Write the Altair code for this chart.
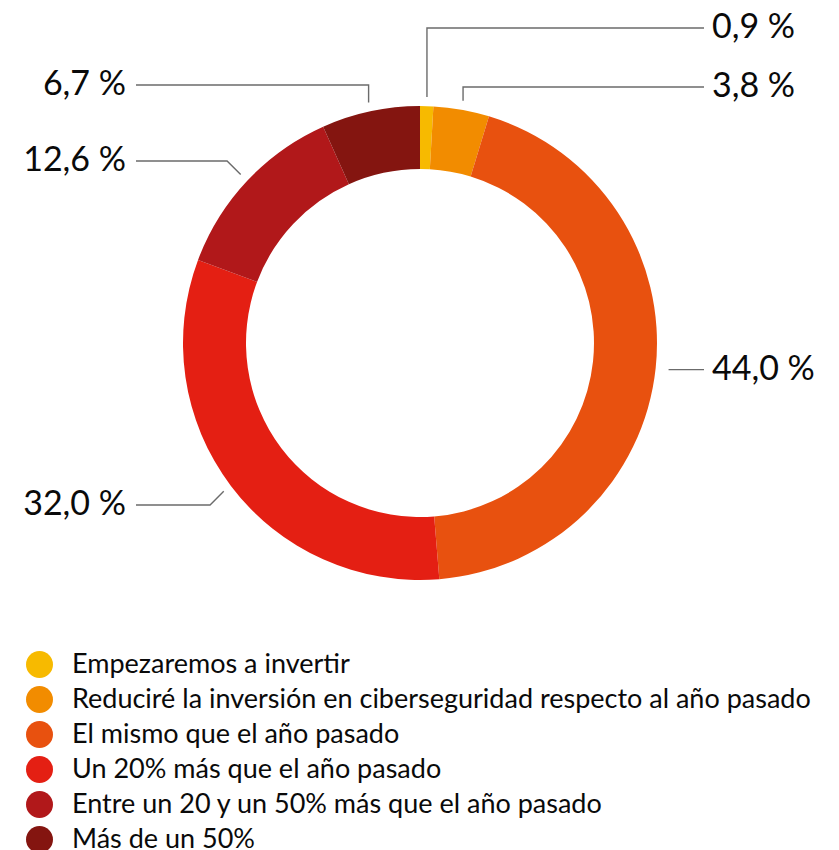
import math
import altair as alt
import pandas as pd

# ---- data ----
categories = [
    "Empezaremos a invertir",
    "Reduciré la inversión en ciberseguridad respecto al año pasado",
    "El mismo que el año pasado",
    "Un 20% más que el año pasado",
    "Entre un 20 y un 50% más que el año pasado",
    "Más de un 50%",
]
values = [0.9, 3.8, 44.0, 32.0, 12.6, 6.7]
value_labels = ["0,9 %", "3,8 %", "44,0 %", "32,0 %", "12,6 %", "6,7 %"]
colors = ["#F7BA00", "#F28C00", "#E8510F", "#E41F13", "#B1181A", "#841510"]

# ---- layout (chart pixel coordinates) ----
CX, CY = 412, 335
R_OUT, R_IN, R_LEAD = 237, 174, 246
label_y = [20, 79, None, 497, 153, 77]          # None -> horizontal leader
elbow = ["v", "v", "h", "d", "d", "v"]
side = ["r", "r", "r", "l", "l", "l"]
line_end_x = {"r": 696, "l": 128}
text_x = {"r": 704, "l": 118}
FONT = "Lato"

df = pd.DataFrame({"cat": categories, "value": values, "idx": range(len(values))})

total = sum(values)
line_rows, text_rows = [], []
cum = 0.0
for i, v in enumerate(values):
    mid = (cum + v / 2) / total * 2 * math.pi
    cum += v
    r = R_LEAD if elbow[i] != "h" else R_LEAD + 4
    x0 = CX + r * math.sin(mid)
    y0 = CY - r * math.cos(mid)
    ly = y0 if label_y[i] is None else label_y[i]
    if elbow[i] == "v":
        x1, y1 = x0, ly
    elif elbow[i] == "d":
        d = abs(ly - y0)
        x1 = x0 - d if side[i] == "l" else x0 + d
        y1 = ly
    else:
        x1, y1 = x0, y0
    x2 = line_end_x[side[i]]
    for k, (px, py) in enumerate([(x0, y0), (x1, y1), (x2, ly)]):
        line_rows.append({"id": i, "k": k, "px": px, "py": py})
    text_rows.append({"id": i, "tx": text_x[side[i]], "ty": ly, "label": value_labels[i], "side": side[i]})

lines = pd.DataFrame(line_rows)
texts = pd.DataFrame(text_rows)

arc = alt.Chart(df).mark_arc(radius=R_OUT, innerRadius=R_IN, stroke=None).encode(
    theta=alt.Theta("value:Q", stack=True),
    order=alt.Order("idx:Q"),
    x=alt.value(CX),
    y=alt.value(CY),
    color=alt.Color(
        "cat:N",
        scale=alt.Scale(domain=categories, range=colors),
        sort=categories,
        legend=alt.Legend(
            orient="none",
            legendX=18,
            legendY=643,
            title=None,
            symbolType="circle",
            symbolSize=729,
            symbolStrokeWidth=0,
            symbolOpacity=1,
            labelFont=FONT,
            labelFontSize=27,
            labelColor="#0a0a0a",
            labelOffset=19,
            labelLimit=0,
            rowPadding=7,
            padding=0,
            direction="vertical",
        ),
    ),
)

leaders = alt.Chart(lines).mark_line(color="#6b6b6b", strokeWidth=1.4).encode(
    x=alt.X("px:Q", scale=None),
    y=alt.Y("py:Q", scale=None),
    detail="id:N",
    order="k:Q",
)

text_r = alt.Chart(texts).transform_filter(alt.datum.side == "r").mark_text(
    align="left", baseline="middle", font=FONT, fontSize=34, color="#0a0a0a"
).encode(x=alt.X("tx:Q", scale=None), y=alt.Y("ty:Q", scale=None), text="label:N")

text_l = alt.Chart(texts).transform_filter(alt.datum.side == "l").mark_text(
    align="right", baseline="middle", font=FONT, fontSize=34, color="#0a0a0a"
).encode(x=alt.X("tx:Q", scale=None), y=alt.Y("ty:Q", scale=None), text="label:N")

chart = alt.layer(arc, leaders, text_r, text_l).properties(
    width=823, height=620, padding=0
).configure_view(stroke=None)

chart.save("out.html", embed_options={"renderer": "svg", "actions": False})
